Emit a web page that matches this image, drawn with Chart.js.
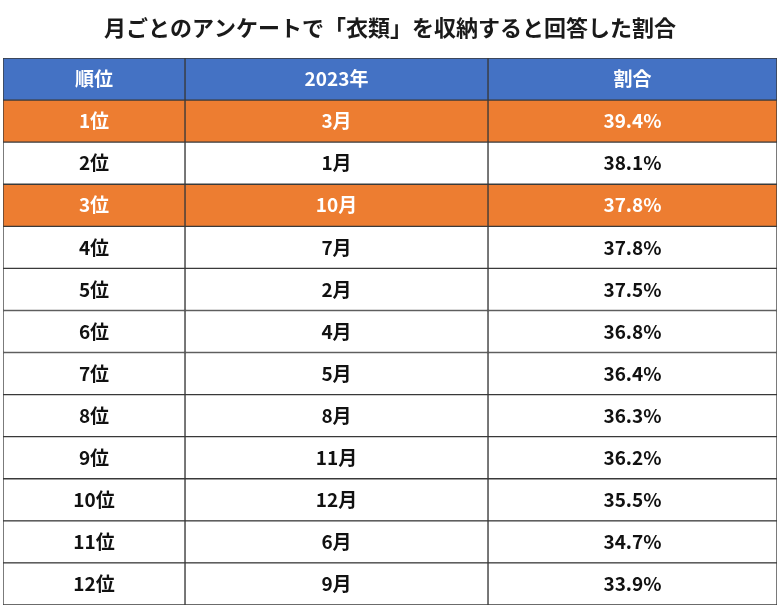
<!DOCTYPE html>
<html>
<head>
<meta charset="utf-8">
<script src="https://cdn.jsdelivr.net/npm/chart.js@4"></script>
<style>
  html, body { margin: 0; padding: 0; background: #fff; }
  #wrap { width: 780px; height: 607px; }
</style>
</head>
<body>
<div id="wrap"><canvas id="table"></canvas></div>
<script>
const titleText = '月ごとのアンケートで「衣類」を収納すると回答した割合'
const headers = ['順位', '2023年', '割合']
const ranks = ['1位', '2位', '3位', '4位', '5位', '6位', '7位', '8位', '9位', '10位', '11位', '12位']
const months = ['3月', '1月', '10月', '7月', '2月', '4月', '5月', '8月', '11月', '12月', '6月', '9月']
const shares = [39.4, 38.1, 37.8, 37.8, 37.5, 36.8, 36.4, 36.3, 36.2, 35.5, 34.7, 33.9]
const highlighted = ['1位', '3位']

// column edges in x-scale units
const colEdges = [0, 182, 485, 774]

const rowLabels = ['header'].concat(ranks)
const rowFill = (i) => {
  if (i === 0) return '#4472C4'
  return highlighted.includes(ranks[i - 1]) ? '#ED7D31' : '#FFFFFF'
}
const cellText = (row, col) => {
  if (row === 0) return headers[col]
  const r = row - 1
  return [ranks[r], months[r], shares[r].toFixed(1) + '%'][col]
}

const datasets = headers.map((h, col) => ({
  data: rowLabels.map(() => [colEdges[col], colEdges[col + 1]]),
  backgroundColor: rowLabels.map((l, i) => rowFill(i)),
  borderColor: '#3a3a3a',
  borderWidth: 1,
  borderSkipped: false,
  grouped: false,
  barPercentage: 1,
  categoryPercentage: 1,
}))

const textPlugin = {
  id: 'cellText',
  afterDatasetsDraw(chart) {
    const { ctx, scales } = chart
    ctx.save()
    ctx.textAlign = 'center'
    ctx.textBaseline = 'middle'
    ctx.fillStyle = '#1a1a1a'
    ctx.font = 'bold 22px "Noto Sans CJK JP"'
    ctx.fillText(titleText, chart.width / 2, 28)
    ctx.font = 'bold 19px "Noto Sans CJK JP"'
    rowLabels.forEach((l, row) => {
      const y = scales.y.getPixelForValue(row)
      headers.forEach((h, col) => {
        const x = scales.x.getPixelForValue((colEdges[col] + colEdges[col + 1]) / 2)
        const white = row === 0 || rowFill(row) !== '#FFFFFF'
        ctx.fillStyle = white ? '#FFFFFF' : '#111111'
        ctx.fillText(cellText(row, col), x, y)
      })
    })
    ctx.restore()
  },
}

new Chart(document.getElementById('table'), {
  type: 'bar',
  data: { labels: rowLabels, datasets },
  options: {
    indexAxis: 'y',
    responsive: true,
    maintainAspectRatio: false,
    animation: false,
    layout: { padding: { top: 58, left: 3, right: 3, bottom: 2 } },
    scales: {
      x: { type: 'linear', min: 0, max: 774, display: false },
      y: { display: false },
    },
    plugins: { legend: { display: false }, tooltip: { enabled: false } },
  },
  plugins: [textPlugin],
})
</script>
</body>
</html>
